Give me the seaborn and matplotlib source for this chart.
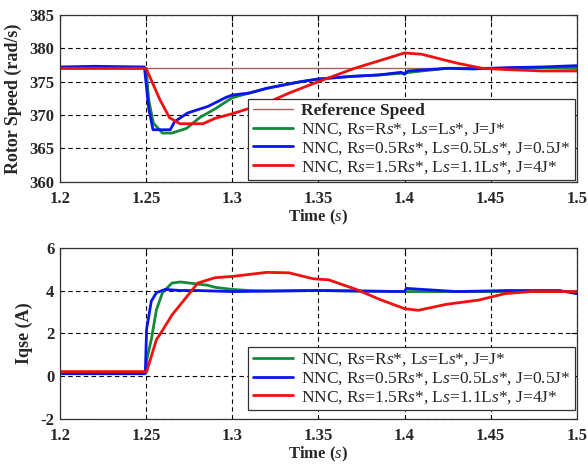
import matplotlib

matplotlib.use("Agg")

import matplotlib.pyplot as plt
import numpy as np
import pandas as pd
import seaborn as sns

# ---- data ----
REF_SPEED = 377.0

t_spd_green = [1.2, 1.22, 1.25, 1.2515, 1.2542, 1.2595, 1.265, 1.2735, 1.281, 1.2905, 1.30,
               1.31, 1.32, 1.335, 1.35, 1.37, 1.385, 1.40, 1.41, 1.425, 1.44, 1.46, 1.48, 1.5]
w_spd_green = [377.0, 377.0, 377.0, 372.3, 368.8, 367.3, 367.3, 368.0, 369.6, 371.0, 372.6,
               373.3, 374.0, 374.8, 375.4, 375.8, 376.0, 376.3, 376.6, 377.0, 377.0, 377.0, 377.1, 377.0]

t_spd_blue = [1.2, 1.22, 1.249, 1.2515, 1.254, 1.264, 1.2665, 1.274, 1.286, 1.296, 1.30, 1.31,
              1.32, 1.34, 1.35, 1.37, 1.385, 1.398, 1.40, 1.402, 1.425, 1.44, 1.46, 1.48, 1.5]
w_spd_blue = [377.2, 377.3, 377.2, 371.0, 367.8, 367.8, 369.0, 370.3, 371.3, 372.6, 373.0, 373.3,
              374.0, 375.0, 375.4, 375.8, 376.0, 376.4, 376.1, 376.6, 377.0, 376.9, 377.1, 377.2, 377.4]

t_spd_red = [1.2, 1.25, 1.2522, 1.258, 1.2636, 1.2696, 1.283, 1.29, 1.30, 1.31, 1.32, 1.333,
             1.35, 1.371, 1.39, 1.40, 1.41, 1.43, 1.445, 1.46, 1.48, 1.5]
w_spd_red = [377.0, 377.0, 375.7, 372.3, 369.6, 368.7, 368.7, 369.5, 370.2, 371.0, 371.8, 373.3,
             375.0, 377.0, 378.5, 379.3, 379.1, 377.8, 377.0, 376.8, 376.6, 376.6]

t_iq_green = [1.2, 1.25, 1.2505, 1.253, 1.256, 1.2595, 1.265, 1.27, 1.28, 1.2855, 1.29, 1.30,
              1.31, 1.32, 1.35, 1.40, 1.45, 1.5]
iq_green = [0.15, 0.15, 0.8, 1.7, 3.1, 3.9, 4.35, 4.4, 4.3, 4.25, 4.15, 4.05,
            4.0, 3.98, 4.0, 3.95, 3.95, 3.95]

t_iq_blue = [1.2, 1.2495, 1.2503, 1.253, 1.256, 1.261, 1.27, 1.28, 1.30, 1.35, 1.40, 1.401,
             1.43, 1.46, 1.49, 1.5]
iq_blue = [0.1, 0.1, 2.2, 3.5, 3.9, 4.05, 4.0, 4.0, 3.95, 4.0, 3.95, 4.1,
           3.95, 4.0, 4.0, 3.85]

t_iq_red = [1.2, 1.2503, 1.256, 1.2585, 1.265, 1.272, 1.28, 1.29, 1.30, 1.32, 1.333, 1.347,
            1.356, 1.372, 1.386, 1.40, 1.408, 1.424, 1.443, 1.458, 1.4735, 1.5]
iq_red = [0.2, 0.2, 1.7, 2.0, 2.85, 3.55, 4.35, 4.6, 4.66, 4.85, 4.83, 4.55,
          4.5, 4.05, 3.57, 3.15, 3.07, 3.35, 3.55, 3.85, 3.95, 3.95]

X_TICKS = [1.2, 1.25, 1.3, 1.35, 1.4, 1.45, 1.5]
X_TICK_LABELS = ["1.2", "1.25", "1.3", "1.35", "1.4", "1.45", "1.5"]
SPD_TICKS = [360, 365, 370, 375, 380, 385]
IQ_TICKS = [-2, 0, 2, 4, 6]

LBL_REF = "Reference Speed"
LBL_GREEN = r"NNC, R$\it{s}$=R$\it{s}$*, L$\it{s}$=L$\it{s}$*, J=J*"
LBL_BLUE = r"NNC, R$\it{s}$=0.5R$\it{s}$*, L$\it{s}$=0.5L$\it{s}$*, J=0.5J*"
LBL_RED = r"NNC, R$\it{s}$=1.5R$\it{s}$*, L$\it{s}$=1.1L$\it{s}$*, J=4J*"

GREEN = "#13893a"
BLUE = "#0a14f0"
RED = "#f01010"
BROWN = "#a4645c"

sns.set_theme(style="white")
plt.rcParams["font.family"] = ["Liberation Serif", "DejaVu Serif"]
plt.rcParams["mathtext.fontset"] = "custom"
plt.rcParams["mathtext.rm"] = "Liberation Serif"
plt.rcParams["mathtext.it"] = "Liberation Serif:italic"
plt.rcParams["xtick.direction"] = "in"
plt.rcParams["ytick.direction"] = "in"

fig = plt.figure(figsize=(5.88, 4.65), dpi=100)
ax1 = fig.add_axes([0.102, 0.609, 0.879, 0.359])
ax2 = fig.add_axes([0.102, 0.100, 0.879, 0.367])


def style_axis(ax, yticks, ylabel):
    ax.set_xlim(1.2, 1.5)
    ax.set_ylim(yticks[0], yticks[-1])
    ax.set_xticks(X_TICKS)
    ax.set_xticklabels(X_TICK_LABELS, fontsize=12, fontweight="bold")
    ax.set_yticks(yticks)
    ax.set_yticklabels([str(v) for v in yticks], fontsize=12, fontweight="bold")
    ax.grid(True, color="black", linestyle=(0, (4, 3)), linewidth=0.8)
    ax.tick_params(axis="both", length=4, width=0.8, color="black",
                   top=True, right=True)
    ax.tick_params(axis="x", pad=6.5)
    ax.tick_params(axis="y", pad=4)
    for sp in ax.spines.values():
        sp.set_color("#333333")
        sp.set_linewidth(0.9)
    ax.set_xlabel(r"Time ($\it{s}$)", fontsize=12, fontweight="bold", labelpad=1)
    ax.set_ylabel(ylabel, fontsize=13, fontweight="bold", labelpad=5)


def style_legend(leg, y_anchor):
    leg.set_bbox_to_anchor((0.978, y_anchor), transform=fig.transFigure)
    fr = leg.get_frame()
    fr.set_edgecolor("#333333")
    fr.set_linewidth(0.9)
    fr.set_alpha(1)
    for txt in leg.get_texts():
        if txt.get_text() == LBL_REF:
            txt.set_fontweight("bold")


legend_kw = dict(loc="lower right", fontsize=12.5, frameon=True, fancybox=False, borderpad=0.25,
                 labelspacing=0.12, handlelength=2.3, handletextpad=0.5, borderaxespad=0)

# top: rotor speed
sns.lineplot(x=[1.2, 1.5], y=[REF_SPEED, REF_SPEED], ax=ax1, color=BROWN, linewidth=1.0, label=LBL_REF)
sns.lineplot(x=t_spd_green, y=w_spd_green, ax=ax1, color=GREEN, linewidth=2, label=LBL_GREEN, sort=False)
sns.lineplot(x=t_spd_blue, y=w_spd_blue, ax=ax1, color=BLUE, linewidth=2, label=LBL_BLUE, sort=False)
sns.lineplot(x=t_spd_red, y=w_spd_red, ax=ax1, color=RED, linewidth=2, label=LBL_RED, sort=False)
style_axis(ax1, SPD_TICKS, "Rotor Speed (rad/s)")
style_legend(ax1.legend(**legend_kw), 0.613)

# bottom: iqse
sns.lineplot(x=t_iq_green, y=iq_green, ax=ax2, color=GREEN, linewidth=2, label=LBL_GREEN, sort=False)
sns.lineplot(x=t_iq_blue, y=iq_blue, ax=ax2, color=BLUE, linewidth=2, label=LBL_BLUE, sort=False)
sns.lineplot(x=t_iq_red, y=iq_red, ax=ax2, color=RED, linewidth=2, label=LBL_RED, sort=False)
style_axis(ax2, IQ_TICKS, "Iqse (A)")
style_legend(ax2.legend(**legend_kw), 0.118)

fig.savefig("out.png", dpi=100)
